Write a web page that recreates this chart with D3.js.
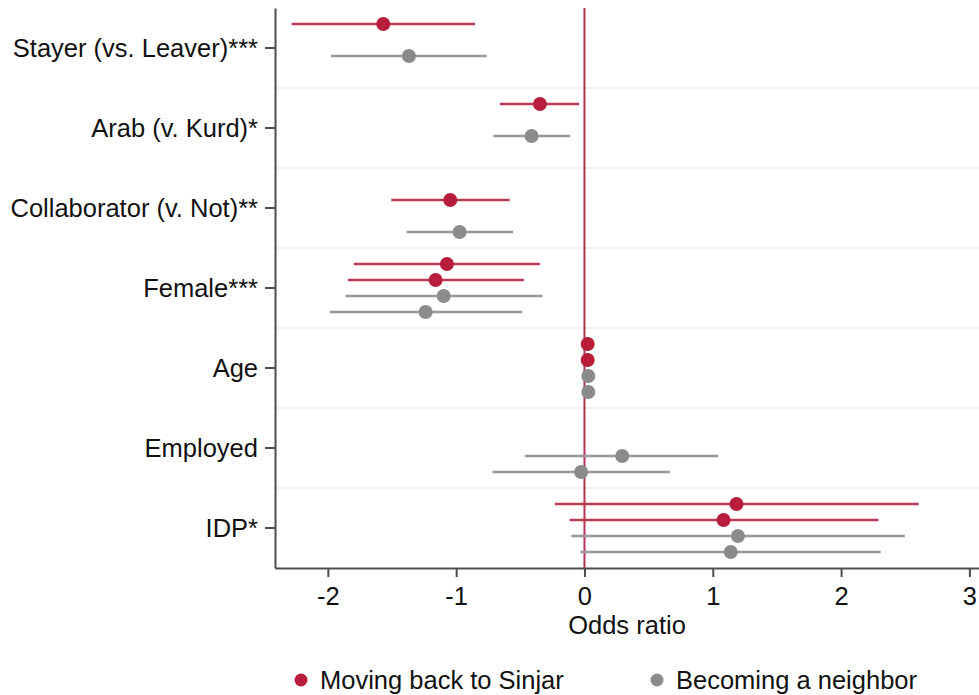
<!DOCTYPE html>
<html>
<head>
<meta charset="utf-8">
<script src="https://cdn.jsdelivr.net/npm/d3@7/dist/d3.min.js"></script>
<style>
  html, body { margin: 0; padding: 0; background: #fff; }
  svg { display: block; font-family: "Liberation Sans", Arial, Helvetica, sans-serif; }
</style>
</head>
<body>
<svg id="chart" width="979" height="695"></svg>
<script>
// Predictors shown on the vertical axis (top to bottom)
const categories = [
  "Stayer (vs. Leaver)***",
  "Arab (v. Kurd)*",
  "Collaborator (v. Not)**",
  "Female***",
  "Age",
  "Employed",
  "IDP*"
];

// Four model specifications, each drawn on its own row inside a category band
const models = ["sinjarA", "sinjarB", "neighborA", "neighborB"];
const modelOutcome = ["Moving back to Sinjar", "Moving back to Sinjar", "Becoming a neighbor", "Becoming a neighbor"];

// Point estimates per model, in category order (null = not in that model)
const estSinjarA   = [-1.568, -0.347, null,   -1.072, 0.025, null,   1.185];
const estSinjarB   = [null,   null,   -1.046, -1.160, 0.025, null,   1.084];
const estNeighborA = [-1.368, -0.412, null,   -1.097, 0.030, 0.294,  1.196];
const estNeighborB = [null,   null,   -0.973, -1.238, 0.030, -0.026, 1.140];

// Lower confidence bounds
const loSinjarA   = [-2.282, -0.659, null,   -1.797, 0.020, null,   -0.231];
const loSinjarB   = [null,   null,   -1.506, -1.843, 0.020, null,   -0.116];
const loNeighborA = [-1.976, -0.711, null,   -1.861, 0.025, -0.465, -0.103];
const loNeighborB = [null,   null,   -1.386, -1.984, 0.025, -0.715, -0.033];

// Upper confidence bounds
const hiSinjarA   = [-0.853, -0.041, null,   -0.347, 0.030, null,   2.605];
const hiSinjarB   = [null,   null,   -0.583, -0.472, 0.030, null,   2.292];
const hiNeighborA = [-0.762, -0.111, null,   -0.326, 0.035, 1.042,  2.497];
const hiNeighborB = [null,   null,   -0.557, -0.485, 0.035, 0.666,  2.309];

const xTicks = [-2, -1, 0, 1, 2, 3];
const xTickLabels = ["-2", "-1", "0", "1", "2", "3"];
const xTitle = "Odds ratio";
const legendLabels = ["Moving back to Sinjar", "Becoming a neighbor"];

const estimates = [estSinjarA, estSinjarB, estNeighborA, estNeighborB];
const lows = [loSinjarA, loSinjarB, loNeighborA, loNeighborB];
const highs = [hiSinjarA, hiSinjarB, hiNeighborA, hiNeighborB];

// Flatten into rows for drawing
const rows = [];
models.forEach((m, mi) => {
  categories.forEach((c, ci) => {
    if (estimates[mi][ci] !== null) {
      rows.push({ model: m, outcome: modelOutcome[mi], category: c,
                  est: estimates[mi][ci], lo: lows[mi][ci], hi: highs[mi][ci] });
    }
  });
});

const plot = { left: 275, right: 979, top: 8, bottom: 568 };
const fontSize = 25.5;

const dotColor = { "Moving back to Sinjar": "#b81e3b", "Becoming a neighbor": "#8b8b8b" };
const lineColor = { "Moving back to Sinjar": "#b93a52", "Becoming a neighbor": "#999999" };

const svg = d3.select("#chart");

const x = d3.scaleLinear().domain([-2.412, 3.075]).range([plot.left, plot.right]);
const y = d3.scaleBand().domain(categories).range([plot.top, plot.bottom]).padding(0);
const slot = d3.scalePoint().domain(models).range([0, y.bandwidth()]).padding(1);

// Light separators between category bands
svg.append("g")
  .selectAll("line")
  .data(categories.slice(1))
  .join("line")
  .attr("x1", plot.left).attr("x2", plot.right)
  .attr("y1", d => y(d)).attr("y2", d => y(d))
  .attr("stroke", "#ececec").attr("stroke-width", 1.6);

// Reference line at zero
svg.append("line")
  .attr("x1", x(0)).attr("x2", x(0))
  .attr("y1", plot.top).attr("y2", plot.bottom)
  .attr("stroke", "#b3324b").attr("stroke-width", 2);

// Confidence intervals
svg.append("g")
  .selectAll("line")
  .data(rows)
  .join("line")
  .attr("x1", d => x(d.lo)).attr("x2", d => x(d.hi))
  .attr("y1", d => y(d.category) + slot(d.model))
  .attr("y2", d => y(d.category) + slot(d.model))
  .attr("stroke", d => lineColor[d.outcome])
  .attr("stroke-width", 2.6);

// Point estimates
svg.append("g")
  .selectAll("circle")
  .data(rows)
  .join("circle")
  .attr("cx", d => x(d.est))
  .attr("cy", d => y(d.category) + slot(d.model))
  .attr("r", 7)
  .attr("fill", d => dotColor[d.outcome]);

// Axes
const axisColor = "#4d4d4d";
const xAxis = svg.append("g")
  .attr("transform", `translate(0,${plot.bottom})`)
  .call(d3.axisBottom(x).tickValues(xTicks).tickFormat((d, i) => xTickLabels[i])
        .tickSize(9).tickSizeOuter(0).tickPadding(10));
xAxis.selectAll("text").attr("font-size", fontSize).attr("fill", "#111")
  .attr("font-family", "Liberation Sans, Arial, sans-serif");

const yAxis = svg.append("g")
  .attr("transform", `translate(${plot.left},0)`)
  .call(d3.axisLeft(y).tickSize(10).tickSizeOuter(0).tickPadding(7));
yAxis.selectAll("text").attr("font-size", fontSize).attr("fill", "#111")
  .attr("dy", "0.35em")
  .attr("font-family", "Liberation Sans, Arial, sans-serif");

[xAxis, yAxis].forEach(g => {
  g.select(".domain").attr("stroke", axisColor).attr("stroke-width", 2);
  g.selectAll(".tick line").attr("stroke", axisColor).attr("stroke-width", 2);
});

// Axis title
svg.append("text")
  .attr("x", (plot.left + plot.right) / 2)
  .attr("y", 634)
  .attr("text-anchor", "middle")
  .attr("font-size", fontSize)
  .attr("fill", "#111")
  .text(xTitle);

// Legend
const legendX = [301, 657];
const legend = svg.append("g")
  .selectAll("g")
  .data(legendLabels)
  .join("g")
  .attr("transform", (d, i) => `translate(${legendX[i]},680)`);
legend.append("circle").attr("r", 6.5).attr("fill", d => dotColor[d]);
legend.append("text")
  .attr("x", 19).attr("y", 9)
  .attr("font-size", fontSize)
  .attr("fill", "#111")
  .text(d => d);
</script>
</body>
</html>
